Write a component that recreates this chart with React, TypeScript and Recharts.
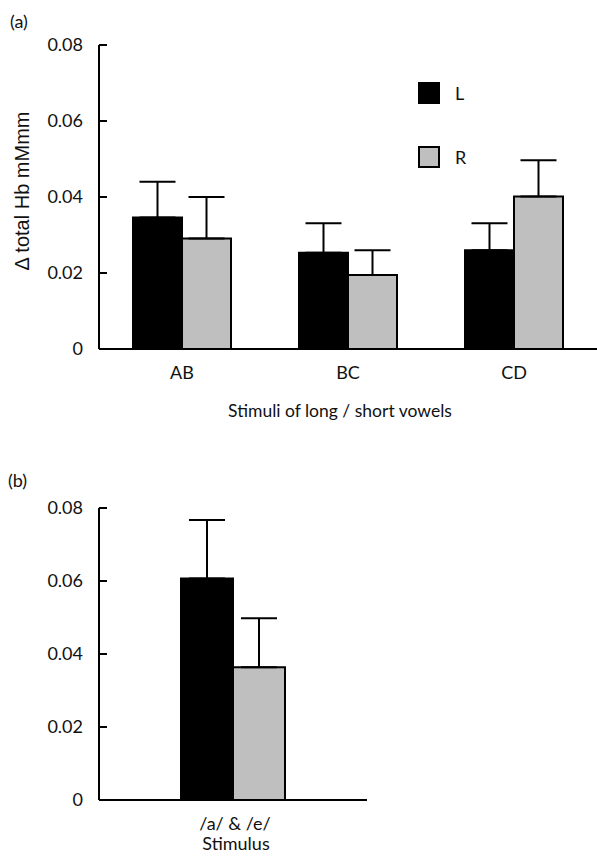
import { BarChart, Bar, XAxis, YAxis, ErrorBar, Legend, Label } from 'recharts';

const FONT = 'Lato, "Open Sans", sans-serif';
const LABEL_FONT = '"Liberation Sans", Arial, sans-serif';

// panel (a)
const categoriesA = ['AB', 'BC', 'CD'];
const leftA = [0.0346, 0.0253, 0.026];
const leftErrA = [0.0094, 0.0078, 0.0071];
const rightA = [0.0291, 0.0195, 0.0401];
const rightErrA = [0.0109, 0.0065, 0.0096];

// panel (b)
const categoriesB = ['/a/ & /e/'];
const leftB = [0.0607];
const leftErrB = [0.016];
const rightB = [0.0364];
const rightErrB = [0.0134];

const yTicks = [0, 0.02, 0.04, 0.06, 0.08];
const seriesNames = ['L', 'R'];
const colors = ['#000000', '#bfbfbf'];

const build = (cats: string[], l: number[], le: number[], r: number[], re: number[]) =>
  cats.map((name, i) => ({
    name,
    L: l[i],
    LErr: [0, le[i]],
    R: r[i],
    RErr: [0, re[i]],
  }));

const dataA = build(categoriesA, leftA, leftErrA, rightA, rightErrA);
const dataB = build(categoriesB, leftB, leftErrB, rightB, rightErrB);

const YTick = (props: any) => {
  const { x, y, payload } = props;
  const v = payload.value === 0 ? '0' : Number(payload.value).toFixed(2);
  return (
    <g>
      <line x1={x} x2={x + 8} y1={y} y2={y} stroke="#000" strokeWidth={2} />
      <text x={x - 16} y={y} dy="0.36em" textAnchor="end" fontSize={18} fontFamily={FONT} fill="#111">
        {v}
      </text>
    </g>
  );
};

const XTick = (props: any) => {
  const { x, y, payload } = props;
  return (
    <text x={x} y={y + 30} textAnchor="middle" fontSize={18} fontFamily={FONT} fill="#111">
      {payload.value}
    </text>
  );
};

const LegendBox = () => (
  <div style={{ fontFamily: FONT, fontSize: 18, color: '#111' }}>
    {seriesNames.map((n, i) => (
      <div key={n} style={{ display: 'flex', alignItems: 'center', height: 22, marginBottom: i === 0 ? 42 : 0 }}>
        <span
          style={{
            width: 18,
            height: 18,
            background: colors[i],
            border: '2px solid #000',
            display: 'inline-block',
          }}
        />
        <span style={{ marginLeft: 15, lineHeight: '22px' }}>{n}</span>
      </div>
    ))}
  </div>
);

export default function App() {
  return (
    <div style={{ position: 'absolute', left: 0, top: 0, width: 597, height: 856, background: '#fff' }}>
      <div style={{ position: 'absolute', left: 10, top: 10, fontFamily: FONT, fontSize: 18, color: '#111', lineHeight: '22px' }}>(a)</div>
      <div style={{ position: 'absolute', left: 8, top: 469, fontFamily: FONT, fontSize: 18, color: '#111', lineHeight: '22px' }}>(b)</div>

      <div style={{ position: 'absolute', left: 0, top: 0 }}>
        <BarChart
          width={597}
          height={430}
          data={dataA}
          margin={{ top: 45, right: 0, bottom: 0, left: 0 }}
          barCategoryGap={34}
          barGap={0}
        >
          <XAxis
            dataKey="name"
            tick={<XTick />}
            tickLine={false}
            tickSize={0}
            tickMargin={0}
            height={81}
            axisLine={{ stroke: '#000', strokeWidth: 2 }}
          >
            <Label
              content={(p: any) => (
                <text
                  x={340}
                  y={p.viewBox.y + 68}
                  textAnchor="middle"
                  fontSize={17.5}
                  fontFamily={FONT}
                  fill="#111"
                >
                  Stimuli of long / short vowels
                </text>
              )}
            />
          </XAxis>
          <YAxis
            domain={[0, 0.08]}
            ticks={yTicks}
            tick={<YTick />}
            tickLine={false}
            tickSize={0}
            tickMargin={0}
            width={99}
            axisLine={{ stroke: '#000', strokeWidth: 2 }}
          >
            <Label
              content={() => (
                <text
                  x={22}
                  y={191}
                  transform="rotate(-90 22 191)"
                  textAnchor="middle"
                  dy="0.35em"
                  fontSize={20}
                  fontFamily={LABEL_FONT}
                  fill="#111"
                >
                  Δ total Hb mMmm
                </text>
              )}
            />
          </YAxis>
          <Legend
            layout="vertical"
            align="center"
            verticalAlign="middle"
            content={() => <LegendBox />}
            wrapperStyle={{ left: 418, top: 82, width: 80 }}
          />
          <Bar dataKey="L" fill={colors[0]} stroke="#000" strokeWidth={2} isAnimationActive={false}>
            <ErrorBar dataKey="LErr" width={18} stroke="#000" strokeWidth={2} direction="y" isAnimationActive={false} />
          </Bar>
          <Bar dataKey="R" fill={colors[1]} stroke="#000" strokeWidth={2} isAnimationActive={false}>
            <ErrorBar dataKey="RErr" width={18} stroke="#000" strokeWidth={2} direction="y" isAnimationActive={false} />
          </Bar>
        </BarChart>
      </div>

      <div style={{ position: 'absolute', left: 0, top: 463 }}>
        <BarChart
          width={367}
          height={393}
          data={dataB}
          margin={{ top: 45, right: 0, bottom: 0, left: 0 }}
          barCategoryGap={82}
          barGap={0}
        >
          <XAxis
            dataKey="name"
            tick={(p: any) => (
              <text x={p.x + 2} y={p.y + 30} textAnchor="middle" fontSize={18} fontFamily={FONT} fill="#111">
                {p.payload.value}
              </text>
            )}
            tickLine={false}
            tickSize={0}
            tickMargin={0}
            height={56}
            axisLine={{ stroke: '#000', strokeWidth: 2 }}
          >
            <Label
              content={(p: any) => (
                <text
                  x={236}
                  y={p.viewBox.y + 50}
                  textAnchor="middle"
                  fontSize={18}
                  fontFamily={FONT}
                  fill="#111"
                >
                  Stimulus
                </text>
              )}
            />
          </XAxis>
          <YAxis
            domain={[0, 0.08]}
            ticks={yTicks}
            tick={<YTick />}
            tickLine={false}
            tickSize={0}
            tickMargin={0}
            width={99}
            axisLine={{ stroke: '#000', strokeWidth: 2 }}
          />
          <Bar dataKey="L" fill={colors[0]} stroke="#000" strokeWidth={2} isAnimationActive={false}>
            <ErrorBar dataKey="LErr" width={18} stroke="#000" strokeWidth={2} direction="y" isAnimationActive={false} />
          </Bar>
          <Bar dataKey="R" fill={colors[1]} stroke="#000" strokeWidth={2} isAnimationActive={false}>
            <ErrorBar dataKey="RErr" width={18} stroke="#000" strokeWidth={2} direction="y" isAnimationActive={false} />
          </Bar>
        </BarChart>
      </div>
    </div>
  );
}
